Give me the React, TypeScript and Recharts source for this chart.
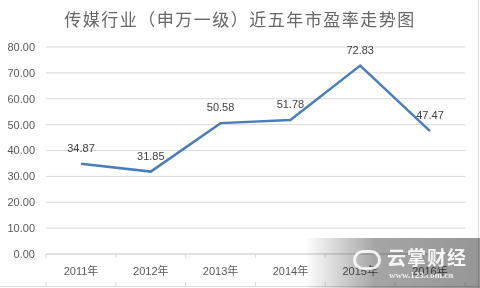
import React from "react";
import { LineChart, Line, XAxis, YAxis, CartesianGrid, LabelList } from "recharts";

const categories = ["2011年", "2012年", "2013年", "2014年", "2015年", "2016年"];
const peValues = [34.87, 31.85, 50.58, 51.78, 72.83, 47.47];
const yTicks = [0, 10, 20, 30, 40, 50, 60, 70, 80];
const title = "传媒行业（申万一级）近五年市盈率走势图";

const data = categories.map((c, i) => ({ name: c, pe: peValues[i] }));

const HALF_BAND = 35;

const XTick = (props: any) => {
  const { x, y, payload, index } = props;
  const isLast = index === categories.length - 1;
  return (
    <g>
      <line x1={x - HALF_BAND} x2={x - HALF_BAND} y1={y - 8} y2={y - 4} stroke="#d9d9d9" />
      {isLast && <line x1={x + HALF_BAND} x2={x + HALF_BAND} y1={y - 8} y2={y - 4} stroke="#d9d9d9" />}
      <text x={x} y={y + 13} textAnchor="middle" fontSize={11} fill="#595959" fontFamily="Liberation Sans, Noto Sans CJK SC">
        {payload.value}
      </text>
      <line x1={x - HALF_BAND} x2={x - HALF_BAND} y1={y + 20} y2={y + 24} stroke="#d9d9d9" />
      {isLast && <line x1={x + HALF_BAND} x2={x + HALF_BAND} y1={y + 20} y2={y + 24} stroke="#d9d9d9" />}
    </g>
  );
};

export default function App() {
  return (
    <div style={{ position: "absolute", left: 0, top: 0, width: 480, height: 288, background: "#fff", overflow: "hidden" }}>
      <LineChart width={480} height={288} data={data} margin={{ top: 47, right: 15, bottom: 4, left: 0 }}>
        <text x={240} y={26} textAnchor="middle" fontFamily="Noto Sans CJK SC" fontSize={17} letterSpacing={1.5} fill="#666666">
          {title}
        </text>
        <CartesianGrid vertical={false} stroke="#d9d9d9" />
        <XAxis
          dataKey="name"
          height={30}
          padding={{ left: HALF_BAND, right: HALF_BAND }}
          axisLine={{ stroke: "#d9d9d9" }}
          tickLine={false}
          tick={<XTick />}
          interval={0}
        />
        <YAxis
          width={46}
          domain={[0, 80]}
          ticks={yTicks}
          axisLine={false}
          tickLine={false}
          tickMargin={5}
          tickFormatter={(v: number) => v.toFixed(2)}
          tick={{ fontSize: 11, fill: "#595959", fontFamily: "Liberation Sans" }}
        />
        <Line type="linear" dataKey="pe" stroke="#4a7ebb" strokeWidth={2.5} dot={false} isAnimationActive={false}>
          <LabelList dataKey="pe" position="top" offset={12} fontSize={11} fill="#404040" fontFamily="Liberation Sans" formatter={(v: number) => v.toFixed(2)} />
        </Line>
      </LineChart>
      <div style={{ position: "absolute", right: 1, top: 0, width: 1, height: 288, background: "#d9d9d9" }} />
      <div style={{ position: "absolute", left: 0, top: 286, width: 480, height: 1, background: "#d9d9d9" }} />
      <div
        style={{
          position: "absolute",
          left: 305,
          top: 238,
          width: 175,
          height: 50,
          mixBlendMode: "multiply",
          background: "linear-gradient(to right, rgba(160,160,160,0) 0%, rgba(165,165,165,1) 40%, rgba(150,150,150,1) 100%)",
        }}
      />
      <div style={{ position: "absolute", left: 305, top: 238, width: 175, height: 50 }}>
        <div style={{ position: "absolute", left: 82, top: 8, fontFamily: "Noto Sans CJK SC", fontWeight: 700, fontSize: 19, lineHeight: "22px", color: "rgba(255,255,255,0.9)", letterSpacing: 1 }}>
          云掌财经
        </div>
        <div style={{ position: "absolute", left: 84, top: 32, fontFamily: "Liberation Serif", fontWeight: 700, fontSize: 9, lineHeight: "10px", color: "rgba(255,255,255,0.85)" }}>
          www.123.com.cn
        </div>
        <div style={{ position: "absolute", left: 48, top: 12, width: 28, height: 20, borderRadius: 10, border: "3px solid rgba(255,255,255,0.85)", boxSizing: "border-box" }} />
      </div>
    </div>
  );
}
